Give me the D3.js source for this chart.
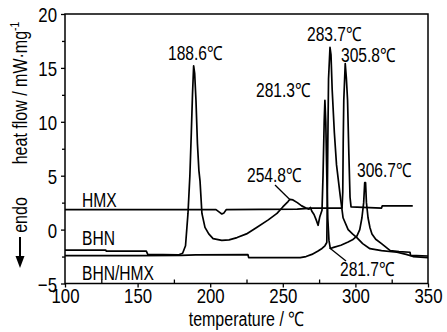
<!DOCTYPE html>
<html>
<head>
<meta charset="utf-8">
<script src="https://cdn.jsdelivr.net/npm/d3@7"></script>
<style>
body { margin: 0; background: #fff; }
text { font-family: "Liberation Sans", Arial, sans-serif; fill: #000; }
</style>
</head>
<body>
<div id="chart"></div>
<script>
// DSC curves, [temperature (C), heat flow (mW/mg)]
var hmx = [[100,1.85],[204,1.85],[206.5,1.6],[208,1.45],[209.5,1.55],[211,1.85],[260,1.9],[270,2.0],
	[290.8,2.0],[291.3,3.5],[291.6,8],[292,12],[293,15.4],[293.8,14],[294.6,12],[295.5,7],[296.3,3],[297,2.1],
	[318,2.0],[318.5,2.2],[339.5,2.2]];

var bhn = [[100,-1.9],[128,-1.9],[128.5,-2.0],[156,-2.0],[157,-2.3],[178,-2.35],[181,-2.2],[183,-1.5],
	[184.7,1.5],[186,5],[187,9],[187.8,12.5],[188.6,15.2],[189.3,14.5],[190.2,12],[191.2,8],[192.2,5.5],
	[193,4.5],[194.3,1.5],[196.4,0.2],[199,-0.4],[202,-0.84],[208,-1.0],[213,-0.95],[218.5,-0.74],[225,-0.4],
	[232,0.2],[240,0.9],[246,1.5],[250,2.1],[253.6,2.6],[254.8,2.8],[257,2.75],[260,2.5],[263,2.2],[266,2.0],
	[268,1.9],[269,2.05],[270,1.7],[271.5,1.4],[273,0.9],[274.3,0.4],[275.5,1.2],[277,1.8],[277.7,5],
	[278.5,10],[279,12],[279.6,10],[280.3,5],[281,1],[281.8,-1.0],[282.7,-1.75],[285,-1.65],[290,-1.45],
	[295,-1.15],[298,-0.95],[301,-0.6],[303,0],[304.5,1.1],[305.7,2.5],[306.4,4.35],[307,4.35],[307.6,2.5],
	[308.7,1.1],[310,0.2],[311.4,-0.4],[314,-0.9],[318,-1.3],[324,-1.95],[330,-2.05],[337.6,-2.1],
	[338,-2.4],[350,-2.45]];

var bhnHmx = [[100,-2.42],[150,-2.42],[180,-2.4],[190,-2.35],[226,-2.33],[226.5,-2.6],[262,-2.6],
	[266,-2.5],[270,-2.3],[274,-2.0],[277,-1.75],[279,-1.5],[280.3,-1.2],[280.6,2],[281,8],[281.5,14],
	[282.5,16.9],[283.2,16.2],[284,13],[285.5,9],[287,6],[289.4,3.3],[291.5,1.1],[295,0],[298,-0.4],
	[301,-0.75],[305,-1.3],[310,-1.77],[318,-1.95],[328.6,-2.1],[335,-2.3],[339.7,-2.5],[350,-2.6]];

var xTicks = [100, 150, 200, 250, 300, 350];
var yTicks = [-5, 0, 5, 10, 15, 20];
var curveNames = ["HMX", "BHN", "BHN/HMX"];
var peakTexts = ["188.6℃", "283.7℃", "305.8℃", "281.3℃", "254.8℃", "306.7℃", "281.7℃"];

var width = 447, height = 332;

var svg = d3.select("#chart").append("svg")
	.attr("width", width)
	.attr("height", height);

var x = d3.scaleLinear().domain([100, 350]).range([65, 428]);
var y = d3.scaleLinear().domain([-5, 20]).range([283.5, 14]);

// frame
svg.append("rect")
	.attr("x", x(100)).attr("y", y(20))
	.attr("width", x(350) - x(100)).attr("height", y(-5) - y(20))
	.attr("fill", "none").attr("stroke", "#000").attr("stroke-width", 1.5);

// axes
var xAxis = svg.append("g")
	.attr("transform", "translate(0," + y(-5) + ")")
	.call(d3.axisBottom(x).tickValues(xTicks).tickSize(4).tickPadding(1).tickFormat(d3.format("d")));
svg.append("g")
	.attr("transform", "translate(0," + y(-5) + ")")
	.call(d3.axisTop(x).tickValues([125, 175, 225, 275, 325]).tickSize(4).tickFormat(""));
var yAxis = svg.append("g")
	.attr("transform", "translate(" + x(100) + ",0)")
	.call(d3.axisLeft(y).tickValues(yTicks).tickSize(4).tickPadding(4));
svg.append("g")
	.attr("transform", "translate(" + x(100) + ",0)")
	.call(d3.axisLeft(y).tickValues([-2.5, 2.5, 7.5, 12.5, 17.5]).tickSize(3).tickFormat(""));

svg.selectAll(".domain").remove();
svg.selectAll(".tick line").attr("stroke", "#000").attr("stroke-width", 1.3);
xAxis.selectAll("text").attr("font-size", 21).attr("dy", "0.7em");
yAxis.selectAll("text").attr("font-size", 21).attr("dy", "0.36em");

// curves
var line = d3.line()
	.x(function(d) { return x(d[0]); })
	.y(function(d) { return y(d[1]); });

[hmx, bhn, bhnHmx].forEach(function(s) {
	svg.append("path")
		.datum(s)
		.attr("d", line)
		.attr("fill", "none")
		.attr("stroke", "#000")
		.attr("stroke-width", 1.7)
		.attr("stroke-linejoin", "round");
});

// curve names
var namePos = [[82, 207], [82, 245], [82, 280]];
curveNames.forEach(function(n, i) {
	svg.append("text")
		.attr("x", namePos[i][0]).attr("y", namePos[i][1])
		.attr("font-size", 19.5)
		.text(n);
});

// peak labels
var peakPos = [[168, 60], [307, 41], [341, 62], [256, 97], [247, 182], [357, 177], [340, 276]];
peakTexts.forEach(function(t, i) {
	svg.append("text")
		.attr("x", peakPos[i][0]).attr("y", peakPos[i][1])
		.attr("font-size", 19.5)
		.text(t);
});

// leader lines
svg.append("line").attr("x1", 275).attr("y1", 185).attr("x2", x(254.8)).attr("y2", y(2.8))
	.attr("stroke", "#000").attr("stroke-width", 1.3);
svg.append("line").attr("x1", 346).attr("y1", 261).attr("x2", x(282.3)).attr("y2", y(-1.7))
	.attr("stroke", "#000").attr("stroke-width", 1.3);

// axis titles
svg.append("text")
	.attr("x", (x(100) + x(350)) / 2).attr("y", 326)
	.attr("text-anchor", "middle")
	.attr("font-size", 20)
	.text("temperature / ℃");

var yt = svg.append("g").attr("transform", "translate(27,93) rotate(-90)");
var ytxt = yt.append("text").attr("text-anchor", "middle").attr("font-size", 20);
ytxt.append("tspan").text("heat flow / mW·mg");
ytxt.append("tspan").attr("font-size", 13).attr("dy", -8).text("-1");

svg.append("text")
	.attr("transform", "translate(27,215) rotate(-90)")
	.attr("text-anchor", "middle")
	.attr("font-size", 20)
	.text("endo");

// endo arrow
svg.append("path")
	.attr("d", "M20,237 L20,258")
	.attr("stroke", "#000").attr("stroke-width", 2);
svg.append("path")
	.attr("d", "M15.5,256 L24.5,256 L20,268 Z")
	.attr("fill", "#000");

// the reference uses a condensed face: squeeze every text horizontally
svg.selectAll("text").each(function() {
	var w = this.getComputedTextLength();
	d3.select(this).attr("textLength", w * 0.8).attr("lengthAdjust", "spacingAndGlyphs");
});
</script>
</body>
</html>
